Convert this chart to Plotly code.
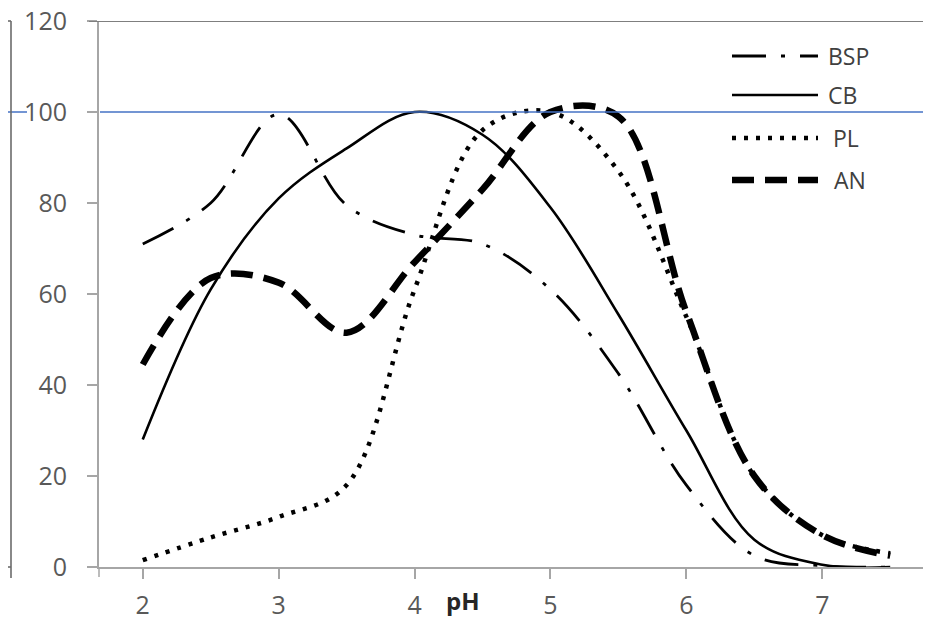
import plotly.graph_objects as go

# ---- data ----
ph = [2, 2.5, 3, 3.5, 4, 4.5, 5, 5.5, 6, 6.5, 7, 7.5]
bsp = [71, 80, 99.5, 79.5, 73, 71, 61, 42.5, 18, 2.5, 0.3, 0]
cb = [28, 61, 81, 92, 100, 95, 79, 55.5, 30, 6, 0.5, 0]
pl = [1.5, 6.5, 11, 18, 61, 96, 100, 87, 55, 20, 7, 3]
an = [44.5, 63.5, 62.5, 51.5, 67, 83, 100, 99, 56, 20, 7, 2.5]

series_names = ["BSP", "CB", "PL", "AN"]
x_ticks = [2, 3, 4, 5, 6, 7]
y_ticks = [0, 20, 40, 60, 80, 100, 120]
ref_level = 100

# ---- styles / layout ----
OFF = 8  # page body margin
W, H = 931 - OFF, 624 - OFF
ML, MR, MT, MB = 99 - OFF, 0, 21 - OFF, 57
FONT = "'Open Sans', Lato, sans-serif"
GRAY = "#595959"
AXIS = "#a6a6a6"

styles = {
    "BSP": dict(color="black", width=2.8, dash="34px,15px,4px,15px"),
    "CB": dict(color="black", width=2.6, dash="solid"),
    "PL": dict(color="black", width=4.5, dash="4px,8px"),
    "AN": dict(color="black", width=6.5, dash="22px,11px"),
}
data = {"BSP": bsp, "CB": cb, "PL": pl, "AN": an}

fig = go.Figure()
for name in series_names:
    fig.add_trace(go.Scatter(
        x=ph, y=data[name], mode="lines", name=name,
        line=dict(shape="spline", smoothing=1.0, **styles[name]),
        showlegend=False, cliponaxis=True,
    ))

pw = W - ML - MR
plot_h = H - MT - MB


def px_x(p):
    # page pixel -> paper x
    return (p - OFF - ML) / pw


def px_y(p):
    # page pixel -> paper y
    return (H - MB - (p - OFF)) / plot_h


shapes = []
# blue reference line at 100
shapes.append(dict(type="line", xref="paper", yref="y", x0=px_x(0), x1=px_x(27),
                   y0=ref_level, y1=ref_level, line=dict(color="#4472C4", width=1.5)))
shapes.append(dict(type="line", xref="paper", yref="y", x0=px_x(100), x1=1,
                   y0=ref_level, y1=ref_level, line=dict(color="#4472C4", width=1.5)))
# outer frame fragment on the left
frame = dict(color="#6b6b6b", width=1.6)
shapes.append(dict(type="line", xref="paper", yref="paper", x0=px_x(0), x1=px_x(11),
                   y0=px_y(21), y1=px_y(21), line=frame))
shapes.append(dict(type="line", xref="paper", yref="paper", x0=px_x(11), x1=px_x(11),
                   y0=px_y(21), y1=px_y(578), line=frame))
shapes.append(dict(type="line", xref="paper", yref="paper", x0=px_x(0), x1=px_x(11),
                   y0=px_y(567), y1=px_y(567), line=frame))
# left axis extension below x axis
shapes.append(dict(type="line", xref="paper", yref="paper", x0=0, x1=0,
                   y0=0, y1=px_y(577), line=dict(color=AXIS, width=1.5)))
# top border line (at 120)
shapes.append(dict(type="line", xref="paper", yref="y", x0=px_x(89), x1=1, y0=120, y1=120,
                   line=dict(color="#7f7f7f", width=2)))

# manual legend
leg_y = {"BSP": 56, "CB": 95, "PL": 138, "AN": 180}
leg_tx = {"BSP": 826, "CB": 826, "PL": 831, "AN": 832}
annotations = []
for name in series_names:
    st = styles[name]
    shapes.append(dict(type="line", xref="paper", yref="paper",
                       x0=px_x(732), x1=px_x(818), y0=px_y(leg_y[name]), y1=px_y(leg_y[name]),
                       line=dict(color="black", width=st["width"], dash=st["dash"])))
    annotations.append(dict(text=name, xref="paper", yref="paper", x=px_x(leg_tx[name]),
                            y=px_y(leg_y[name]), xanchor="left", yanchor="middle",
                            showarrow=False, font=dict(family=FONT, size=23, color="#404040")))

# axis title "pH"
annotations.append(dict(text="<b>pH</b>", xref="paper", yref="paper", x=px_x(463), y=px_y(600),
                        xanchor="center", yanchor="middle", showarrow=False,
                        font=dict(family=FONT, size=24, color="#262626")))

fig.update_layout(
    width=W, height=H,
    margin=dict(l=ML, r=MR, t=MT, b=MB, pad=0, autoexpand=False),
    paper_bgcolor="white", plot_bgcolor="white",
    shapes=shapes, annotations=annotations,
    font=dict(family=FONT, size=24, color=GRAY),
    xaxis=dict(range=[1.678, 7.80], tickvals=x_ticks, ticks="outside", ticklen=10,
               tickcolor=AXIS, tickwidth=1.5, showgrid=False, zeroline=False,
               showline=True, linecolor=AXIS, linewidth=2, mirror=False,
               tickfont=dict(family=FONT, size=25, color=GRAY), ticklabelstandoff=5,
               ticklabeloverflow="allow", automargin=False),
    yaxis=dict(range=[0, 120], tickvals=y_ticks, ticks="outside", ticklen=10,
               tickcolor=AXIS, tickwidth=1.5, showgrid=False, zeroline=False,
               showline=True, linecolor=AXIS, linewidth=2,
               tickfont=dict(family=FONT, size=25, color=GRAY), ticklabelstandoff=15,
               ticklabeloverflow="allow", automargin=False),
)

fig.write_html("out.html")
